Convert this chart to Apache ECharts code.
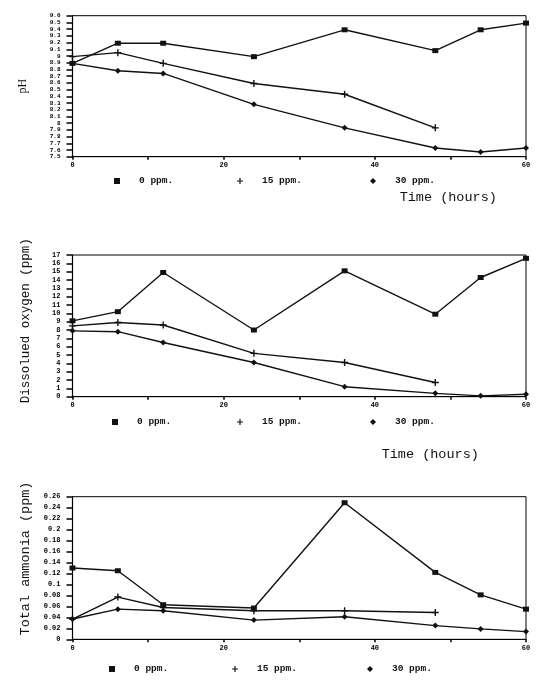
<!DOCTYPE html>
<html><head><meta charset="utf-8">
<script src="https://cdn.jsdelivr.net/npm/echarts@6/dist/echarts.min.js"></script>
<style>html,body{margin:0;padding:0;background:#fff}#c{width:550px;height:692px}</style>
</head><body><div id="c"></div>
<script>
// ---- data ----
const hours = [0, 6, 12, 24, 36, 48, 54, 60];
const hours15 = [0, 6, 12, 24, 36, 48];
const seriesNames = ['0 ppm.', '15 ppm.', '30 ppm.'];

const pH0 = [8.89, 9.19, 9.19, 8.99, 9.39, 9.08, 9.39, 9.49];
const pH15 = [8.99, 9.05, 8.89, 8.59, 8.43, 7.93];
const pH30 = [8.89, 8.78, 8.74, 8.28, 7.93, 7.63, 7.57, 7.63];

const do0 = [9.1, 10.2, 14.9, 8.0, 15.1, 9.9, 14.3, 16.6];
const do15 = [8.5, 8.9, 8.6, 5.2, 4.1, 1.7];
const do30 = [7.9, 7.8, 6.5, 4.1, 1.2, 0.4, 0.1, 0.3];

const nh0 = [0.130, 0.125, 0.063, 0.057, 0.249, 0.122, 0.081, 0.055];
const nh15 = [0.037, 0.077, 0.058, 0.052, 0.052, 0.049];
const nh30 = [0.037, 0.055, 0.052, 0.035, 0.041, 0.025, 0.019, 0.014];

const yNames = ['pH', 'Dissolued oxygen (ppm)', 'Total ammonia (ppm)'];
const xName = 'Time (hours)';

// ---- build ----
const pair = (xs, ys) => ys.map((v, i) => [xs[i], v]);
const plusPath = 'path://M4,0L6,0L6,4L10,4L10,6L6,6L6,10L4,10L4,6L0,6L0,4L4,4Z';
const symbols = ['rect', plusPath, 'diamond'];
const symSizes = [[6, 5], 7, 6];

const mono = '"Liberation Mono","DejaVu Sans Mono",monospace';
const grids = [
  {left: 72.5, right: 24, top: 15.7, height: 141},
  {left: 72.5, right: 24, top: 255, height: 141.7},
  {left: 72.5, right: 24, top: 496.7, height: 142.6}
].map(g => Object.assign(g, {show: true, borderColor: '#000', borderWidth: 1, containLabel: false}));

const yCfg = [
  {min: 7.5, max: 9.6, interval: 0.1, nameGap: 44, pad: [0, 0, 0, 0], nameFont: '"Liberation Serif","DejaVu Serif",serif', nameSize: 12, lblSize: 6},
  {min: 0, max: 17, interval: 1, nameGap: 40, pad: [0, 0, 0, 10], nameFont: mono, nameSize: 12.5, lblSize: 7},
  {min: 0, max: 0.26, interval: 0.02, nameGap: 37, pad: [0, 0, 0, 19], nameFont: mono, nameSize: 13.5, lblSize: 7}
];
const xNameCfg = [
  {show: true, gap: 34, pad: [0, 0, 0, 298]},
  {show: true, gap: 51, pad: [0, 0, 0, 262]},
  {show: false, gap: 0, pad: [0, 0, 0, 0]}
];

const xAxis = grids.map((g, i) => ({
  type: 'value', gridIndex: i, min: 0, max: 60, interval: 10,
  name: xNameCfg[i].show ? xName : '',
  nameLocation: 'middle', nameGap: xNameCfg[i].gap,
  nameTextStyle: {fontFamily: mono, fontSize: 13.5, color: '#111', padding: xNameCfg[i].pad},
  axisLine: {lineStyle: {color: '#000', width: 1.2}},
  axisTick: {length: 3, lineStyle: {color: '#000', width: 1.5}},
  axisLabel: {margin: 5, fontSize: 7, fontWeight: 'bold', fontFamily: mono, color: '#000',
    showMinLabel: true, showMaxLabel: true, hideOverlap: false,
    formatter: v => (v % 20 === 0 ? String(v) : '')},
  splitLine: {show: false}
}));

const yAxis = yCfg.map((c, i) => ({
  type: 'value', gridIndex: i, min: c.min, max: c.max, interval: c.interval,
  name: yNames[i], nameLocation: 'middle', nameGap: c.nameGap,
  nameTextStyle: {fontFamily: c.nameFont, fontSize: c.nameSize, color: '#111', padding: c.pad},
  axisLine: {lineStyle: {color: '#000', width: 1.2}},
  axisTick: {length: 6, lineStyle: {color: '#000', width: 1.5}},
  axisLabel: {margin: 12, fontSize: c.lblSize, lineHeight: c.lblSize - 1, fontWeight: 'bold', fontFamily: mono, color: '#000',
    showMinLabel: true, showMaxLabel: true, hideOverlap: false},
  splitLine: {show: false}
}));

const dataSets = [[pH0, pH15, pH30], [do0, do15, do30], [nh0, nh15, nh30]];
const series = [];
dataSets.forEach((set, gi) => {
  set.forEach((vals, si) => {
    series.push({
      type: 'line', name: seriesNames[si], xAxisIndex: gi, yAxisIndex: gi,
      data: pair(si === 1 ? hours15 : hours, vals),
      symbol: symbols[si], symbolSize: symSizes[si], showSymbol: true,
      lineStyle: {color: '#111', width: 1.4},
      itemStyle: {color: '#111'},
      animation: false
    });
  });
});

const legendPos = [
  {y: 176, xs: [114, 237, 370]},
  {y: 417, xs: [112, 237, 370]},
  {y: 664, xs: [109, 232, 367]}
];
const legend = [];
legendPos.forEach(lp => {
  seriesNames.forEach((n, si) => {
    legend.push({
      data: [{name: n, icon: symbols[si]}], left: lp.xs[si], top: lp.y, padding: 0,
      itemWidth: 6, itemHeight: 6, selectedMode: false,
      textStyle: {fontFamily: mono, fontSize: 9.5, fontWeight: 'bold', color: '#111', padding: [0, 0, 0, 14]}
    });
  });
});

const chart = echarts.init(document.getElementById('c'), null, {renderer: 'canvas'});
chart.setOption({
  animation: false,
  backgroundColor: '#fff',
  grid: grids, xAxis, yAxis, series, legend
});
</script>
</body></html>
